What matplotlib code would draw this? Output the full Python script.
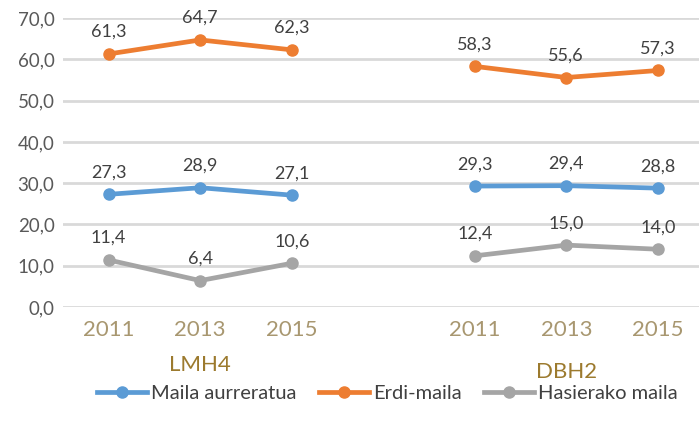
import matplotlib.pyplot as plt
import numpy as np

years = ["2011", "2013", "2015"]
groups = ["LMH4", "DBH2"]
series = ["Maila aurreratua", "Erdi-maila", "Hasierako maila"]

aurreratua_lmh4 = [27.3, 28.9, 27.1]
aurreratua_dbh2 = [29.3, 29.4, 28.8]
erdi_lmh4 = [61.3, 64.7, 62.3]
erdi_dbh2 = [58.3, 55.6, 57.3]
hasiera_lmh4 = [11.4, 6.4, 10.6]
hasiera_dbh2 = [12.4, 15.0, 14.0]

colors = ["#5B9BD5", "#ED7D31", "#A5A5A5"]
values = [(aurreratua_lmh4, aurreratua_dbh2),
          (erdi_lmh4, erdi_dbh2),
          (hasiera_lmh4, hasiera_dbh2)]

plt.rcParams['font.family'] = ['Lato', 'DejaVu Sans']

fig = plt.figure(figsize=(6.99, 4.30), dpi=100)
ax = fig.add_axes([0.09, 0.286, 0.91, 0.672])

x_lmh4 = np.arange(3)
x_dbh2 = np.arange(3) + 4

for name, color, (v1, v2) in zip(series, colors, values):
    ax.plot(x_lmh4, v1, color=color, lw=3.4, marker="o", ms=8, label=name)
    ax.plot(x_dbh2, v2, color=color, lw=3.4, marker="o", ms=8)
    for xs, vs in ((x_lmh4, v1), (x_dbh2, v2)):
        for x, v in zip(xs, vs):
            ax.annotate(f"{v:.1f}".replace(".", ","), (x, v), xytext=(0, 10),
                        textcoords="offset points", ha="center", va="bottom",
                        fontsize=13, color="#404040")

ax.set_ylim(0, 70)
ax.set_xlim(-0.5, 6.45)
ax.set_yticks(np.arange(0, 71, 10))
ax.set_yticklabels([f"{t:.1f}".replace(".", ",") for t in np.arange(0, 71, 10)],
                   fontsize=13.5, color="#595959")
ax.set_xticks(list(x_lmh4) + list(x_dbh2))
ax.set_xticklabels(years * 2, fontsize=16, color="#A89770")
ax.tick_params(axis="x", length=0, pad=9)
ax.tick_params(axis="y", length=0, pad=6)
ax.grid(axis="y", color="#D9D9D9", lw=2)
ax.set_axisbelow(True)
for s in ax.spines.values():
    s.set_visible(False)

ax.text(1, -0.20, groups[0], transform=ax.get_xaxis_transform(), ha="center",
        va="center", fontsize=16, color="#9C7A2E")
ax.text(5, -0.225, groups[1], transform=ax.get_xaxis_transform(), ha="center",
        va="center", fontsize=16, color="#9C7A2E")

fig.legend(loc="center", bbox_to_anchor=(0.554, 0.086), ncol=3, frameon=False,
           fontsize=14.5, handlelength=2.5, handletextpad=0.2, columnspacing=1.1,
           labelcolor="#404040")

fig.savefig("out.png", dpi=100)
